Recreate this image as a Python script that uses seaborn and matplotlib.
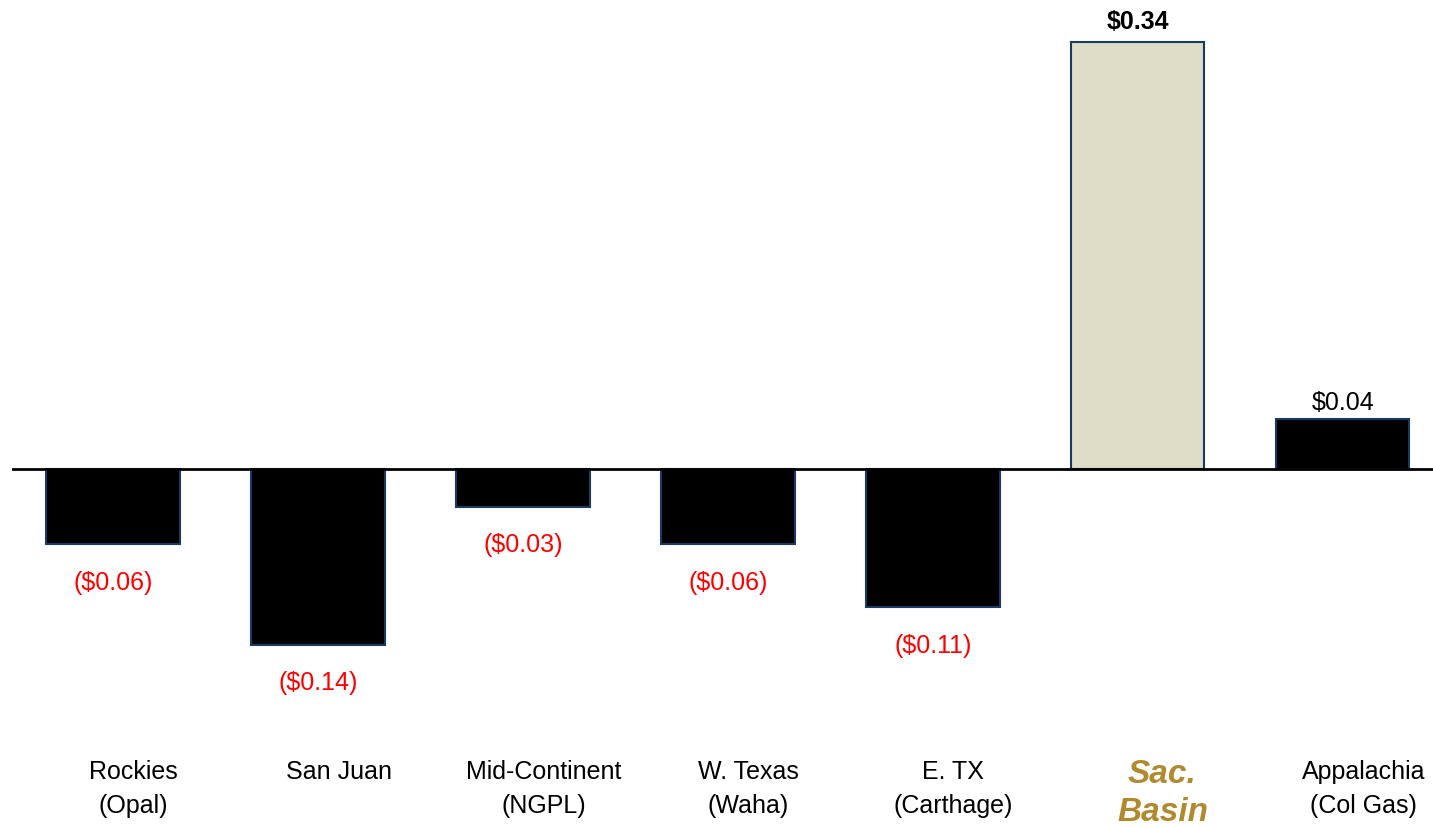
import seaborn as sns
import pandas as pd
import matplotlib.pyplot as plt

# basis differentials by region ($/MMBtu)
regions = ['Rockies\n(Opal)', 'San Juan', 'Mid-Continent\n(NGPL)', 'W. Texas\n(Waha)',
           'E. TX\n(Carthage)', 'Sac.\nBasin', 'Appalachia\n(Col Gas)']
values = [-0.06, -0.14, -0.03, -0.06, -0.11, 0.34, 0.04]
value_labels = ['($0.06)', '($0.14)', '($0.03)', '($0.06)', '($0.11)', '$0.34', '$0.04']
highlight = 'Sac.\nBasin'


def main():
    sns.set_style('white')
    plt.rcParams['font.family'] = ['Liberation Sans', 'DejaVu Sans']

    df = pd.DataFrame({'region': regions, 'value': values})
    palette = {r: ('#DFDDC8' if r == highlight else 'black') for r in regions}

    fig = plt.figure(figsize=(14.33, 8.28), dpi=100)
    ax = fig.add_axes([12 / 1433, 0, 1 - 12 / 1433, 1])
    sns.barplot(data=df, x='region', y='value', hue='region', palette=palette,
                legend=False, width=0.65, edgecolor='#1A3A66', linewidth=1.5,
                saturation=1, ax=ax)

    ax.axhline(0, color='black', lw=2, zorder=5)
    ax.set_xlim(-0.493, 6.44)
    ax.set_ylim(-0.285, 0.374)
    ax.axis('off')

    # value labels
    for i, (v, lab) in enumerate(zip(values, value_labels)):
        if v < 0:
            ax.annotate(lab, (i, v), xytext=(0, -27), textcoords='offset points',
                        ha='center', va='center', color='red', fontsize=18)
        elif regions[i] == highlight:
            ax.annotate(lab, (i, v), xytext=(0, 6), textcoords='offset points',
                        ha='center', va='bottom', color='black', fontsize=18,
                        fontweight='bold')
        else:
            ax.annotate(lab, (i, v), xytext=(0, 3), textcoords='offset points',
                        ha='center', va='bottom', color='black', fontsize=18)

    # category labels
    for i, r in enumerate(regions):
        if r == highlight:
            ax.text(i + 0.12, -0.230, r, ha='center', va='top', fontsize=24,
                    fontweight='bold', fontstyle='italic', color='#B08A2E',
                    linespacing=1.3)
        else:
            ax.text(i + 0.1, -0.231, r, ha='center', va='top', fontsize=18,
                    color='black', linespacing=1.5)

    fig.savefig('out.png', dpi=100)


if __name__ == '__main__':
    main()
